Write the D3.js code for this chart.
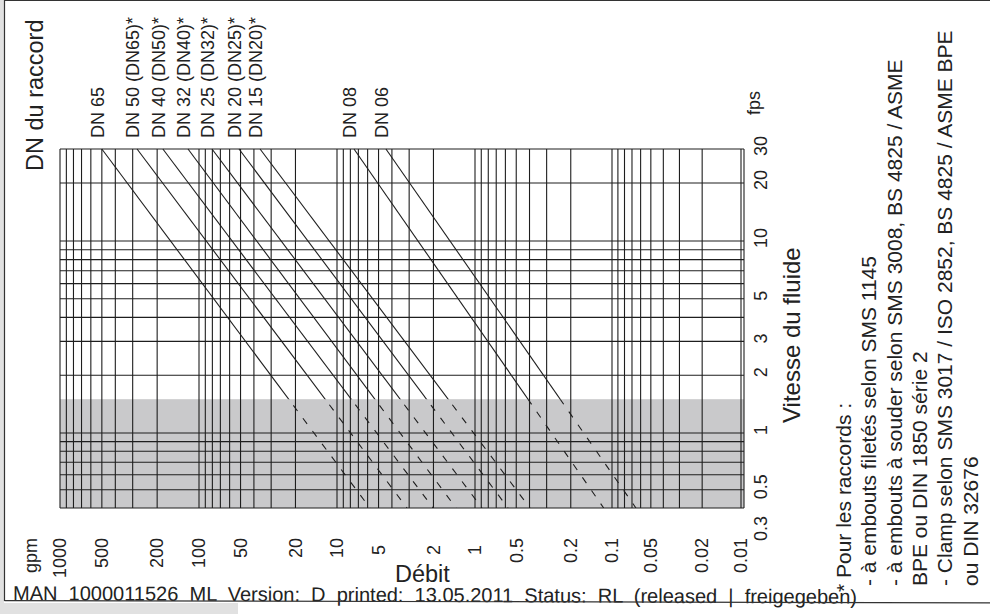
<!DOCTYPE html>
<html><head><meta charset="utf-8">
<script src="https://cdn.jsdelivr.net/npm/d3@7"></script>
<style>
html,body{margin:0;padding:0;background:#fff;}
svg{display:block;font-family:"Liberation Sans",Arial,Helvetica,sans-serif;}
</style></head><body>
<svg id="chart" width="990" height="614"></svg>
<script>
// Flow-rate axis (gpm): decade anchors and labelled ticks
const flowDecades = [1000, 100, 10, 1, 0.1, 0.01];
const flowTicks = [1000, 500, 200, 100, 50, 20, 10, 5, 2, 1, 0.5, 0.2, 0.1, 0.05, 0.02, 0.01];
const flowTickLabels = ["1000","500","200","100","50","20","10","5","2","1","0.5","0.2","0.1","0.05","0.02","0.01"];

// Fluid velocity axis (fps)
const speedDecades = [30, 10, 1, 0.4];
const speedTicks = [30, 20, 10, 5, 3, 2, 1, 0.5, 0.3];
const speedTickLabels = ["30","20","10","5","3","2","1","0.5","0.3"];
const lowSpeedLimit = 1.5;   // shaded zone lies below this velocity

// Connection sizes: flow (gpm) where each line meets 30 fps and 0.4 fps
const dnLabels = ["DN 65","DN 50 (DN65)*","DN 40 (DN50)*","DN 32 (DN40)*","DN 25 (DN32)*","DN 20 (DN25)*","DN 15 (DN20)*","DN 08","DN 06"];
const flowAtTop = [500, 279, 182, 120, 80.5, 51.3, 36.1, 7.53, 4.42];
const flowAtBottom = [5.77, 3.11, 2.01, 1.37, 0.889, 0.574, 0.397, 0.115, 0.0652];

// Footnote on the right-hand side
const noteLines = [
  "* Pour les raccords :",
  "- à embouts filetés selon SMS 1145",
  "- à embouts à souder selon SMS 3008, BS 4825 / ASME",
  "BPE ou DIN 1850 série 2",
  "- Clamp selon SMS 3017 / ISO 2852, BS 4825 / ASME BPE",
  "ou DIN 32676"
];
const footerText = "MAN 1000011526 ML Version: D printed: 13.05.2011 Status: RL (released | freigegeben)";

const svg = d3.select("#chart");
const ink = "#1e1e1e";

const x = d3.scaleLog().domain(flowDecades).range([60, 199, 337, 475, 612, 741]);
const y = d3.scaleLog().domain(speedDecades).range([149, 241, 433, 508]);

const plotL = x(1000), plotR = x(0.01) + 3, plotT = y(30), plotB = y(0.4);
const limitY = y(lowSpeedLimit);

// page background, border and footer rule
svg.append("rect").attr("x", 0).attr("y", 0).attr("width", 990).attr("height", 614).attr("fill", "#fff");
svg.append("rect").attr("x", 0).attr("y", 0).attr("width", 4).attr("height", 614).attr("fill", "#e1e1e1");
svg.append("rect").attr("x", 0).attr("y", 603).attr("width", 238).attr("height", 11).attr("fill", "#e1e1e1");
svg.append("path").attr("d", "M4.5,601V0.5H990").attr("fill", "none").attr("stroke", "#333").attr("stroke-width", 1.2);

// shaded low-velocity zone
svg.append("rect")
  .attr("x", plotL).attr("y", limitY)
  .attr("width", plotR - plotL).attr("height", plotB - limitY)
  .attr("fill", "#c9c9cb");

// log grid
const grid = svg.append("g").attr("stroke", ink).attr("stroke-width", 1.1).attr("fill", "none");
grid.selectAll("line.v").data(x.ticks()).join("line").attr("class", "v")
  .attr("x1", d => x(d)).attr("x2", d => x(d)).attr("y1", plotT).attr("y2", plotB);
grid.selectAll("line.h").data(y.ticks()).join("line").attr("class", "h")
  .attr("x1", plotL).attr("x2", plotR).attr("y1", d => y(d)).attr("y2", d => y(d));
grid.append("line").attr("x1", plotR).attr("x2", plotR).attr("y1", plotT).attr("y2", plotB);

// clip regions above / below the velocity limit
const defs = svg.append("defs");
defs.append("clipPath").attr("id", "above").append("rect")
  .attr("x", plotL).attr("y", plotT - 2).attr("width", plotR - plotL).attr("height", limitY - plotT + 2);
defs.append("clipPath").attr("id", "below").append("rect")
  .attr("x", plotL).attr("y", limitY).attr("width", plotR - plotL).attr("height", plotB - limitY);

const sizes = dnLabels.map((label, i) => ({
  label,
  pts: [[flowAtTop[i], 30], [flowAtBottom[i], 0.4]]
}));
const line = d3.line().x(d => x(d[0])).y(d => y(d[1]));

svg.append("g").attr("clip-path", "url(#above)")
  .selectAll("path").data(sizes).join("path")
  .attr("d", d => line(d.pts)).attr("fill", "none").attr("stroke", ink).attr("stroke-width", 1.1);
svg.append("g").attr("clip-path", "url(#below)")
  .selectAll("path").data(sizes).join("path")
  .attr("d", d => line(d.pts)).attr("fill", "none").attr("stroke", ink).attr("stroke-width", 1.1)
  .attr("stroke-dasharray", "7,9");

// rotated text helper
function vtext(g, tx, ty, str, size, anchor, dy) {
  return g.append("text")
    .attr("transform", `translate(${tx},${ty}) rotate(-90)`)
    .attr("text-anchor", anchor || "start")
    .attr("dy", dy || null)
    .attr("font-size", size)
    .attr("fill", "#222")
    .text(str);
}

const labels = svg.append("g");

// connection labels above each line
sizes.forEach((d, i) => vtext(labels, x(flowAtTop[i]) - 4, 138, d.label, 18, "start", "0.35em"));

// flow tick labels
flowTicks.forEach((v, i) => {
  const s = flowTickLabels[i];
  if (s.length === 1) vtext(labels, x(v), 550, s, 18, "middle", "0.35em");
  else vtext(labels, x(v), 538, s, 18, "end", "0.35em");
});
vtext(labels, 31, 538, "gpm", 18, "end", "0.35em");

// velocity tick labels
speedTicks.forEach((v, i) => vtext(labels, 761, y(v) - 3, speedTickLabels[i], 18, "middle", "0.35em"));
vtext(labels, 754, 103, "fps", 18, "middle", "0.35em");

// axis titles
vtext(labels, 43, 171, "DN du raccord", 23.5, "start");
vtext(labels, 800, 423, "Vitesse du fluide", 24, "start");
labels.append("text").attr("x", 395).attr("y", 582).attr("font-size", 23.5).attr("fill", "#222").text("Débit");

// footnote
noteLines.forEach((s, i) => vtext(labels, 851 + 25.3 * i, i === 0 ? 592 : 586, s, 21, "start"));

// footer line, printed with a slight tilt
labels.append("text").attr("x", 13).attr("y", 600).attr("font-size", 20).attr("fill", "#222")
  .attr("word-spacing", 5.6)
  .attr("transform", "rotate(0.25,13,600)").text(footerText);
svg.append("line").attr("x1", 4.5).attr("x2", 990).attr("y1", 600.6).attr("y2", 602.8)
  .attr("stroke", "#333").attr("stroke-width", 1.2);
</script>
</body></html>
